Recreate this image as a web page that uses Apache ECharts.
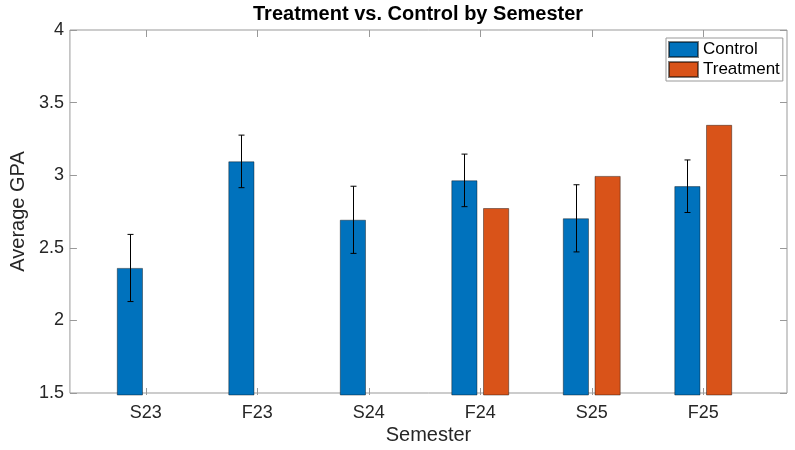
<!DOCTYPE html>
<html>
<head>
<meta charset="utf-8">
<script src="https://cdn.jsdelivr.net/npm/echarts@6/dist/echarts.min.js"></script>
<style>
  html, body { margin: 0; padding: 0; background: #fff; }
  #chart { width: 795px; height: 450px; }
</style>
</head>
<body>
<div id="chart"></div>
<script>
// data
var semesters = ["S23", "F23", "S24", "F24", "S25", "F25"];
var control = [2.37, 3.10, 2.70, 2.97, 2.71, 2.93];
var controlErr = [0.23, 0.18, 0.23, 0.18, 0.23, 0.18];
var treatment = [null, null, null, 2.78, 3.00, 3.35];
var yTicks = [1.5, 2, 2.5, 3, 3.5, 4];

var FONT = "Liberation Sans, Arial, Helvetica, sans-serif";
var AXIS_COLOR = "#999";
var TEXT_COLOR = "#262626";
var BAR_W = 26;
var BAR_GAP = 0.22;
var CAP = 3;

var chart = echarts.init(document.getElementById("chart"));

// error bars sit on the control bar, which is shifted left in its group
var errData = control.map(function (v, i) {
  return [i, v - controlErr[i], v + controlErr[i]];
});

var option = {
  animation: false,
  title: {
    text: "Treatment vs. Control by Semester",
    left: 253,
    top: 4,
    padding: 0,
    textStyle: { fontFamily: FONT, fontSize: 20, fontWeight: "bold", color: "#000" }
  },
  legend: {
    data: ["Control", "Treatment"],
    icon: "rect",
    orient: "vertical",
    left: 666,
    top: 38,
    padding: [3, 3, 3, 2],
    itemWidth: 29,
    itemHeight: 15,
    itemGap: 3,
    backgroundColor: "#fff",
    borderColor: AXIS_COLOR,
    borderWidth: 1,
    textStyle: { fontFamily: FONT, fontSize: 17, color: "#000", lineHeight: 17 }
  },
  grid: [
    // frame grid (MATLAB axes box)
    { left: 62, right: 8, top: 30, bottom: 55, show: true, borderColor: AXIS_COLOR, borderWidth: 1 },
    // category grid, xlim [0.25, 6.75]
    { left: 90, right: 36, top: 30, bottom: 55 }
  ],
  xAxis: [
    {
      gridIndex: 0, type: "value", min: 0, max: 1,
      axisLine: { show: false }, axisTick: { show: false }, axisLabel: { show: false },
      splitLine: { show: false },
      name: "Semester", nameLocation: "middle", nameGap: 32,
      nameTextStyle: { fontFamily: FONT, fontSize: 20, color: TEXT_COLOR }
    },
    {
      gridIndex: 1, type: "category", data: semesters, position: "bottom",
      axisLine: { show: false },
      axisTick: { show: true, inside: true, alignWithLabel: true, length: 7, lineStyle: { color: AXIS_COLOR } },
      axisLabel: { fontFamily: FONT, fontSize: 18, color: TEXT_COLOR, margin: 9 }
    },
    {
      gridIndex: 1, type: "category", data: semesters, position: "top",
      axisLine: { show: false },
      axisTick: { show: true, inside: true, alignWithLabel: true, length: 7, lineStyle: { color: AXIS_COLOR } },
      axisLabel: { show: false }
    }
  ],
  yAxis: [
    {
      gridIndex: 0, type: "value", min: 1.5, max: 4, interval: 0.5, position: "left",
      axisLine: { show: false },
      axisTick: { show: true, inside: true, length: 7, lineStyle: { color: AXIS_COLOR } },
      axisLabel: { fontFamily: FONT, fontSize: 18, color: TEXT_COLOR, margin: 6,
        formatter: function (v) { return yTicks.indexOf(v) >= 0 ? String(v) : ""; } },
      splitLine: { show: false },
      name: "Average GPA", nameLocation: "middle", nameGap: 37,
      nameTextStyle: { fontFamily: FONT, fontSize: 20, color: TEXT_COLOR }
    },
    {
      gridIndex: 0, type: "value", min: 1.5, max: 4, interval: 0.5, position: "right",
      axisLine: { show: false },
      axisTick: { show: true, inside: true, length: 7, lineStyle: { color: AXIS_COLOR } },
      axisLabel: { show: false },
      splitLine: { show: false }
    },
    {
      gridIndex: 1, type: "value", min: 1.5, max: 4, show: false, splitLine: { show: false }
    }
  ],
  series: [
    {
      name: "Control", type: "bar", xAxisIndex: 1, yAxisIndex: 2,
      data: control, barWidth: BAR_W, barGap: (BAR_GAP * 100) + "%",
      itemStyle: { color: "#0072BD", borderColor: "rgba(0,0,0,0.5)", borderWidth: 0.8 }
    },
    {
      name: "Treatment", type: "bar", xAxisIndex: 1, yAxisIndex: 2,
      data: treatment, barWidth: BAR_W,
      itemStyle: { color: "#D95319", borderColor: "rgba(0,0,0,0.5)", borderWidth: 0.8 }
    },
    {
      name: "err", type: "custom", xAxisIndex: 1, yAxisIndex: 2, z: 5,
      data: errData,
      renderItem: function (params, api) {
        var i = api.value(0);
        var lo = api.coord([i, api.value(1)]);
        var hi = api.coord([i, api.value(2)]);
        var x = Math.round(lo[0] - (BAR_W + BAR_W * BAR_GAP) / 2) + 0.5;
        var st = { stroke: "#000", lineWidth: 1 };
        return {
          type: "group",
          children: [
            { type: "line", shape: { x1: x, y1: lo[1], x2: x, y2: hi[1] }, style: st },
            { type: "line", shape: { x1: x - CAP, y1: lo[1], x2: x + CAP, y2: lo[1] }, style: st },
            { type: "line", shape: { x1: x - CAP, y1: hi[1], x2: x + CAP, y2: hi[1] }, style: st }
          ]
        };
      }
    }
  ]
};

chart.setOption(option);
</script>
</body>
</html>
